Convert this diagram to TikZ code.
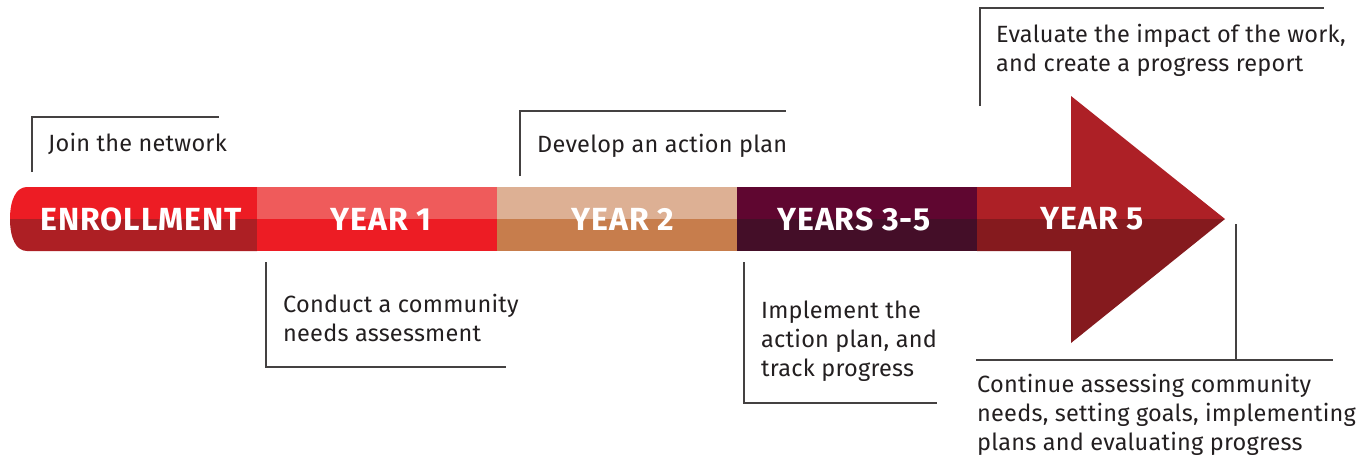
\documentclass[tikz,border=0pt]{standalone}
\usepackage{fontspec}
\setmainfont{Fira Sans}
\newfontfamily\barfont[LetterSpace=3]{Fira Sans}
\newfontfamily\notefont[LetterSpace=1]{Fira Sans}
\usepackage{xcolor}
\usetikzlibrary{positioning}
\definecolor{enrTop}{HTML}{ED1C24}
\definecolor{enrBot}{HTML}{AD1F24}
\definecolor{yoneTop}{HTML}{EF5B5B}
\definecolor{yoneBot}{HTML}{ED1C24}
\definecolor{ytwoTop}{HTML}{DDB094}
\definecolor{ytwoBot}{HTML}{C77D4C}
\definecolor{ythrTop}{HTML}{5F0630}
\definecolor{ythrBot}{HTML}{440E28}
\definecolor{yfivTop}{HTML}{AD2026}
\definecolor{yfivBot}{HTML}{851A1E}
\definecolor{txt}{HTML}{231F20}

\begin{document}
\begin{tikzpicture}[x=1pt,y=-1pt,
    barlabel/.style={text=white,font=\barfont\fontsize{32}{32}\selectfont\bfseries},
    note/.style={anchor=base west,align=left,text=txt,inner sep=0pt,
        font=\notefont\fontsize{23.5}{28.7}\selectfont},
    bracket/.style={draw=txt!85,line width=1.2pt}]
    \useasboundingbox (0,0) rectangle (1369,458);

    % the bar
    \fill[enrTop] (27,187) -- (257,187) -- (257,219) -- (10,219) .. controls (10,200) and (16,187) .. (27,187);
    \fill[enrBot] (10,219) -- (257,219) -- (257,251) -- (27,251) .. controls (16,251) and (10,238) .. (10,219);
    \fill[yoneTop] (257,187) rectangle (497,219);
    \fill[yoneBot] (257,219) rectangle (497,251);
    \fill[ytwoTop] (497,187) rectangle (737,219);
    \fill[ytwoBot] (497,219) rectangle (737,251);
    \fill[ythrTop] (737,187) rectangle (977,219);
    \fill[ythrBot] (737,219) rectangle (977,251);
    \fill[yfivTop] (977,187) -- (1071,187) -- (1071,96) -- (1225,219) -- (977,219) -- cycle;
    \fill[yfivBot] (977,219) -- (1225,219) -- (1071,343) -- (1071,251) -- (977,251) -- cycle;

    \node[barlabel] (enroll) at (141,219) {ENROLLMENT};
    \node[barlabel] (yone) at (381,219) {YEAR 1};
    \node[barlabel] (ytwo) at (623,219) {YEAR 2};
    \node[barlabel] (ythree) at (854,219) {YEARS 3-5};
    \node[barlabel] (yfive) at (1092,219) {YEAR 5};

    % callouts above (base = last line)
    \draw[bracket] (32,172) |- (219,117);
    \node[note] (join) at (48,151) {Join the network};
    \draw[bracket] (520,176) |- (786,111);
    \node[note] (plan) at (537,152) {Develop an action plan};
    \draw[bracket] (980,106) |- (1324,8);
    \node[note] (evaluate) at (996,71) {Evaluate the impact of the work,\\and create a progress report};

    % callouts below
    \draw[bracket] (266,262) |- (506,367);
    \node[note] (assess) at (283,341) {Conduct a community\\needs assessment};
    \draw[bracket] (744,262) |- (937,403);
    \node[note] (implement) at (761,376) {Implement the\\action plan, and\\track progress};
    \draw[bracket] (1236,224) -- (1236,359);
    \draw[bracket] (976,360) -- (1333,360);
    \node[note] (continue) at (977,450) {Continue assessing community\\needs, setting goals, implementing\\plans and evaluating progress};
\end{tikzpicture}
\end{document}
